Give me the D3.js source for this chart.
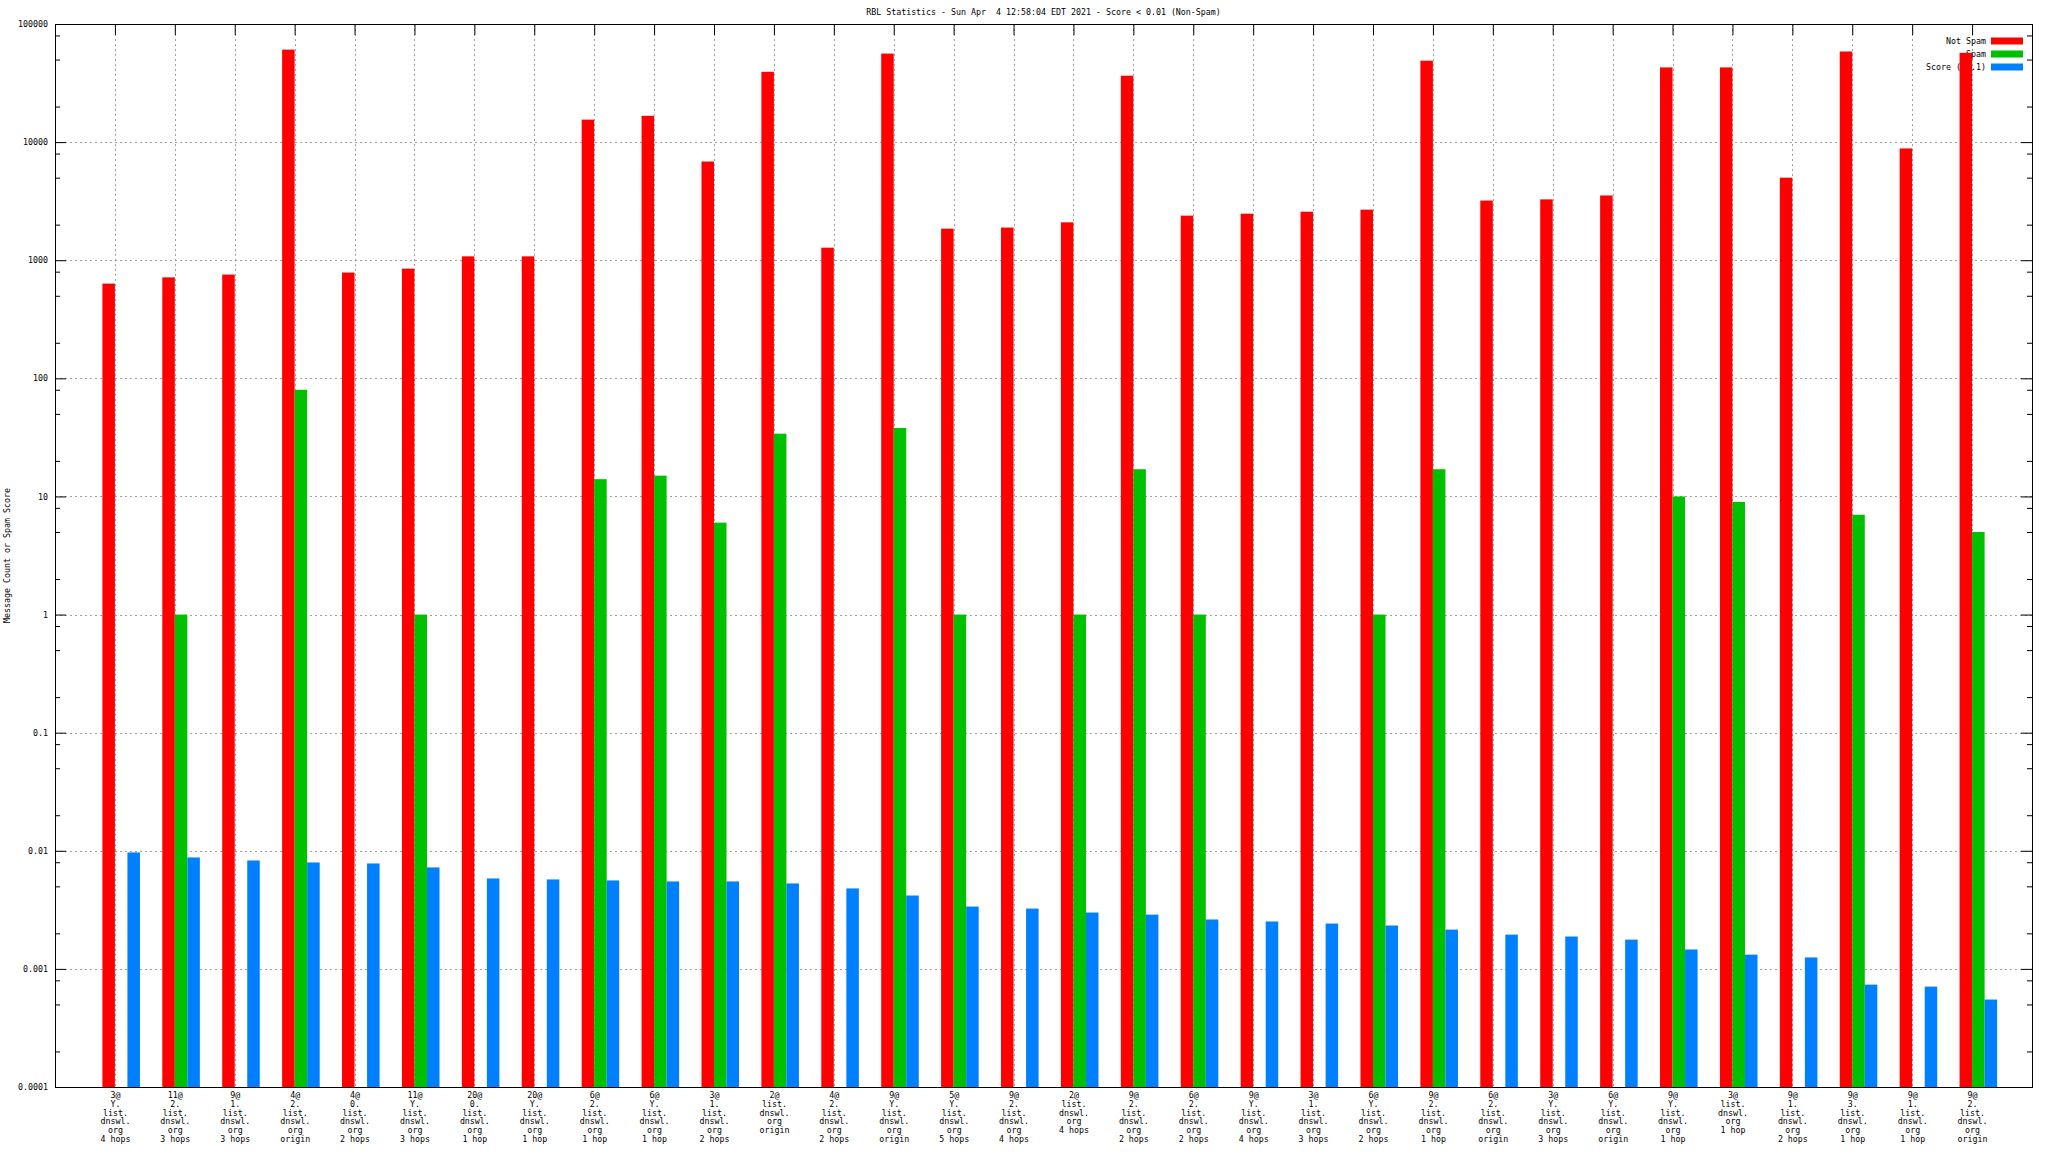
<!DOCTYPE html>
<html>
<head>
<meta charset="utf-8">
<script src="https://cdn.jsdelivr.net/npm/d3@7/dist/d3.min.js"></script>
<style>
html, body { margin: 0; padding: 0; background: #fff; }
svg text { font-family: "DejaVu Sans Mono", "Liberation Mono", monospace; font-size: 8.3px; fill: #000; white-space: pre; }
</style>
</head>
<body>
<svg id="chart" width="2048" height="1152"></svg>
<script>
const titleText = "RBL Statistics - Sun Apr  4 12:58:04 EDT 2021 - Score < 0.01 (Non-Spam)";
const yLabel = "Message Count or Spam Score";
const seriesNames = ["Not Spam", "Spam", "Score (0..1)"];
const seriesColors = ["#ff0000", "#00c000", "#0080ff"];

const categories = [
  "3@\nY.\nlist.\ndnswl.\norg\n4 hops",
  "11@\n2.\nlist.\ndnswl.\norg\n3 hops",
  "9@\n1.\nlist.\ndnswl.\norg\n3 hops",
  "4@\n2.\nlist.\ndnswl.\norg\norigin",
  "4@\n0.\nlist.\ndnswl.\norg\n2 hops",
  "11@\nY.\nlist.\ndnswl.\norg\n3 hops",
  "20@\n0.\nlist.\ndnswl.\norg\n1 hop",
  "20@\nY.\nlist.\ndnswl.\norg\n1 hop",
  "6@\n2.\nlist.\ndnswl.\norg\n1 hop",
  "6@\nY.\nlist.\ndnswl.\norg\n1 hop",
  "3@\n1.\nlist.\ndnswl.\norg\n2 hops",
  "2@\nlist.\ndnswl.\norg\norigin",
  "4@\n2.\nlist.\ndnswl.\norg\n2 hops",
  "9@\nY.\nlist.\ndnswl.\norg\norigin",
  "5@\nY.\nlist.\ndnswl.\norg\n5 hops",
  "9@\n2.\nlist.\ndnswl.\norg\n4 hops",
  "2@\nlist.\ndnswl.\norg\n4 hops",
  "9@\n2.\nlist.\ndnswl.\norg\n2 hops",
  "6@\n2.\nlist.\ndnswl.\norg\n2 hops",
  "9@\nY.\nlist.\ndnswl.\norg\n4 hops",
  "3@\n1.\nlist.\ndnswl.\norg\n3 hops",
  "6@\nY.\nlist.\ndnswl.\norg\n2 hops",
  "9@\n2.\nlist.\ndnswl.\norg\n1 hop",
  "6@\n2.\nlist.\ndnswl.\norg\norigin",
  "3@\nY.\nlist.\ndnswl.\norg\n3 hops",
  "6@\nY.\nlist.\ndnswl.\norg\norigin",
  "9@\nY.\nlist.\ndnswl.\norg\n1 hop",
  "3@\nlist.\ndnswl.\norg\n1 hop",
  "9@\n1.\nlist.\ndnswl.\norg\n2 hops",
  "9@\n3.\nlist.\ndnswl.\norg\n1 hop",
  "9@\n1.\nlist.\ndnswl.\norg\n1 hop",
  "9@\n2.\nlist.\ndnswl.\norg\norigin"
];

const notSpam = [634, 716, 756, 60700, 786, 849, 1078, 1078, 15500, 16700, 6850, 39400, 1277, 56200, 1850, 1890,
                 2093, 36500, 2385, 2478, 2576, 2680, 48900, 3200, 3275, 3535, 42900, 42900, 5000, 58500, 8840, 57000];
const spam = [0, 1, 0, 80, 0, 1, 0, 0, 14, 15, 6, 34, 0, 38, 1, 0,
              1, 17, 1, 0, 0, 1, 17, 0, 0, 0, 10, 9, 0, 7, 0, 5];
const score = [0.00968, 0.00878, 0.00828, 0.00796, 0.00781, 0.00723, 0.00583, 0.00572, 0.00561, 0.0055, 0.0055, 0.00529, 0.0048, 0.00418, 0.00337, 0.00324,
               0.0030, 0.00288, 0.00262, 0.00252, 0.00242, 0.00233, 0.00215, 0.00195, 0.00188, 0.00177, 0.00146, 0.00132, 0.00125, 0.000736, 0.000708, 0.00055];

const yMajorTicks = [1e-4, 1e-3, 1e-2, 1e-1, 1, 10, 100, 1000, 10000, 100000];
const yTickLabels = ["0.0001", "0.001", "0.01", "0.1", "1", "10", "100", "1000", "10000", "100000"];

const L = 55, R = 2032, T = 24, B = 1087;
const svg = d3.select("#chart");

const x = d3.scaleLinear().domain([-1, 32]).range([L, R]);
const y = d3.scaleLog().domain([1e-4, 1e5]).range([B, T]);
const bw = 0.209;

// minor tick values: 2,5,8 x decade
const yMinor = [];
for (let e = -4; e < 5; e++) { [2, 5, 8].forEach(m => yMinor.push(m * Math.pow(10, e))); }

// grid
const grid = svg.append("g").attr("stroke", "#a0a0a0").attr("stroke-width", 1).attr("stroke-dasharray", "2,3");
grid.selectAll("line.h").data(yMajorTicks.slice(1, -1)).join("line")
  .attr("x1", L).attr("x2", R)
  .attr("y1", d => Math.round(y(d)) + 0.5).attr("y2", d => Math.round(y(d)) + 0.5);
grid.selectAll("line.v").data(d3.range(categories.length)).join("line")
  .attr("x1", d => Math.round(x(d)) + 0.5).attr("x2", d => Math.round(x(d)) + 0.5)
  .attr("y1", T).attr("y2", B);

// axes
function styleAxis(g) {
  g.select(".domain").remove();
  g.selectAll(".tick line").attr("stroke", "#000");
  g.selectAll(".tick text").attr("font-family", null).attr("font-size", null).attr("fill", "#000");
}
const fmt = d => yTickLabels[yMajorTicks.indexOf(d)];
svg.append("g").attr("transform", `translate(${L},0)`)
  .call(d3.axisLeft(y).tickValues(yMajorTicks).tickSize(-11).tickPadding(7).tickFormat(fmt)).call(styleAxis);
svg.append("g").attr("transform", `translate(${L},0)`)
  .call(d3.axisLeft(y).tickValues(yMinor).tickSize(-5).tickFormat("")).call(styleAxis);
svg.append("g").attr("transform", `translate(${R},0)`)
  .call(d3.axisRight(y).tickValues(yMajorTicks).tickSize(-11).tickFormat("")).call(styleAxis);
svg.append("g").attr("transform", `translate(${R},0)`)
  .call(d3.axisRight(y).tickValues(yMinor).tickSize(-5).tickFormat("")).call(styleAxis);
svg.append("g").attr("transform", `translate(0,${T})`)
  .call(d3.axisTop(x).tickValues(d3.range(categories.length)).tickSize(-11).tickFormat("")).call(styleAxis);
const xb = svg.append("g").attr("transform", `translate(0,${B})`)
  .call(d3.axisBottom(x).tickValues(d3.range(categories.length)).tickSize(0).tickFormat("")).call(styleAxis);
xb.selectAll(".tick line").remove();
xb.selectAll(".tick").each(function(d) {
  const t = d3.select(this).append("text").attr("text-anchor", "middle").attr("y", 11);
  categories[d].split("\n").forEach((line, k) => {
    t.append("tspan").attr("x", 0).attr("y", 11 + k * 8.8).text(line);
  });
});

// legend (drawn under bars as in reference)
const leg = svg.append("g");
seriesNames.forEach((n, k) => {
  const cy = 41 + k * 13;
  leg.append("text").attr("x", 1986).attr("y", cy).attr("dy", "0.35em").attr("text-anchor", "end").text(n);
  leg.append("rect").attr("x", 1991).attr("y", cy - 3.5).attr("width", 32).attr("height", 7).attr("fill", seriesColors[k]);
});

// bars
const series = [notSpam, spam, score];
const offsets = [-1, 0, 1];
series.forEach((vals, s) => {
  svg.append("g").attr("fill", seriesColors[s]).selectAll("rect")
    .data(vals.map((v, i) => ({v, i})).filter(d => d.v > 0))
    .join("rect")
    .attr("x", d => x(d.i + offsets[s] * bw))
    .attr("width", d => x(d.i + (offsets[s] + 1) * bw) - x(d.i + offsets[s] * bw))
    .attr("y", d => y(d.v))
    .attr("height", d => B - y(d.v));
});

// frame
svg.append("rect").attr("x", L + 0.5).attr("y", T + 0.5).attr("width", R - L).attr("height", B - T)
  .attr("fill", "none").attr("stroke", "#000").attr("stroke-width", 1);

// title
svg.append("text").attr("x", (L + R) / 2).attr("y", 12).attr("dy", "0.35em").attr("text-anchor", "middle").text(titleText);

// y label
svg.append("text").attr("transform", `translate(7,${(T + B) / 2}) rotate(-90)`).attr("dy", "0.35em")
  .attr("text-anchor", "middle").text(yLabel);
</script>
</body>
</html>
